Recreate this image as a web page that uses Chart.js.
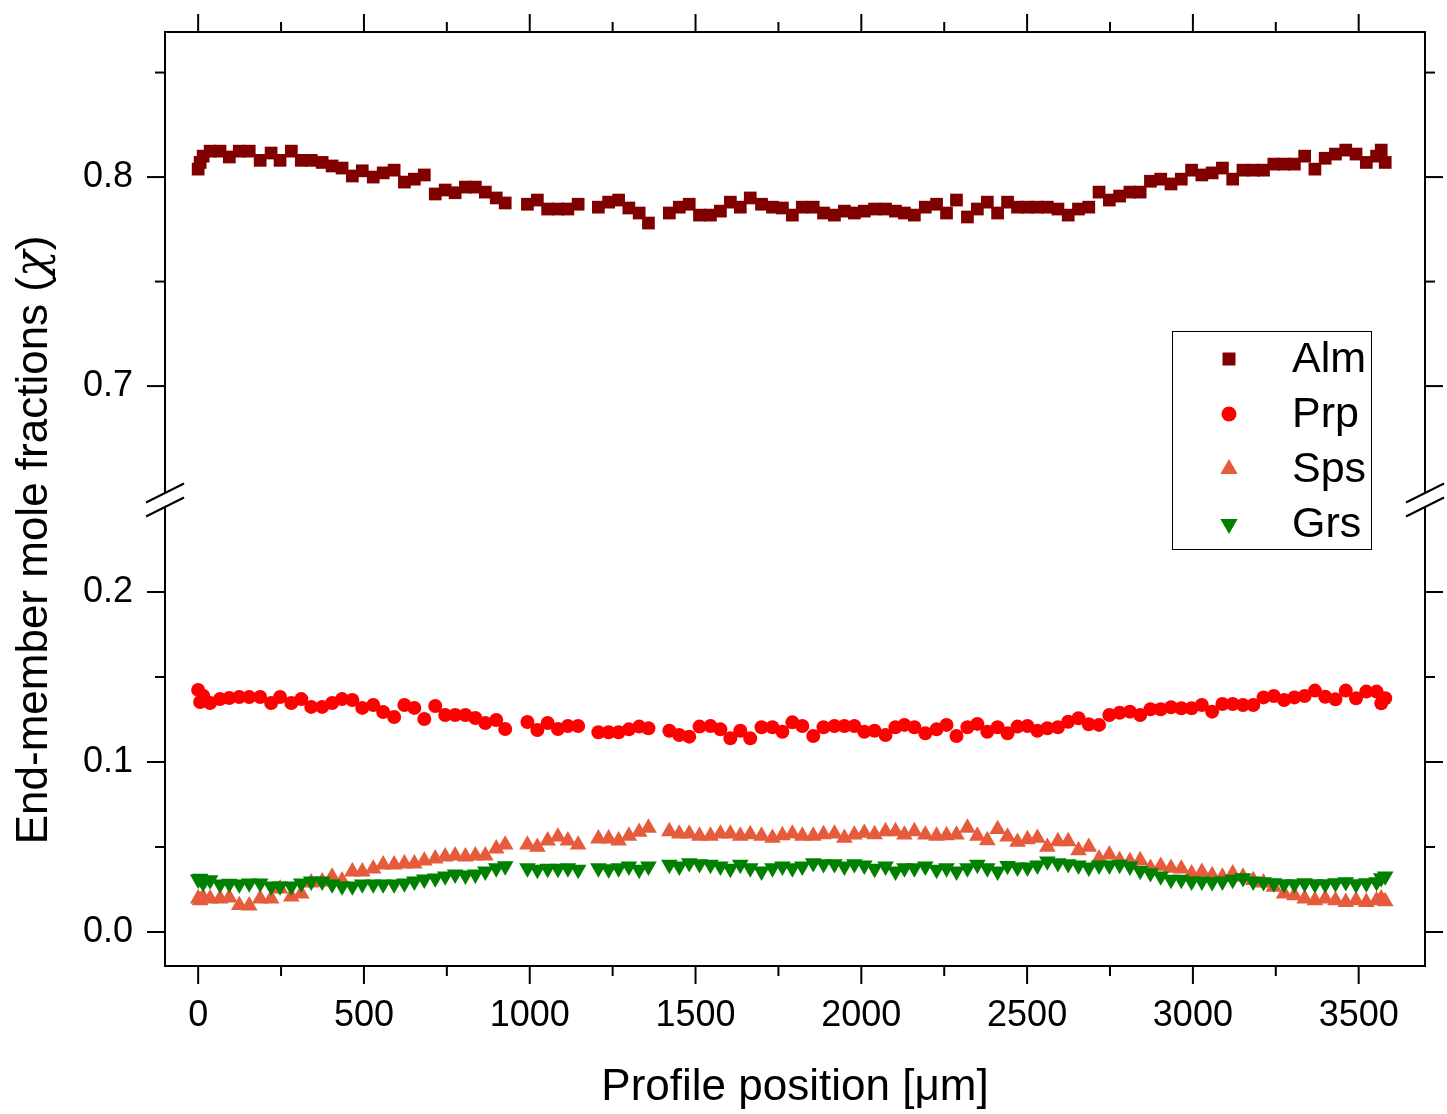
<!DOCTYPE html>
<html>
<head>
<meta charset="utf-8">
<script src="https://cdn.jsdelivr.net/npm/chart.js@4.4.1/dist/chart.umd.min.js"></script>
<style>
html,body{margin:0;padding:0;background:#fff;}
#wrap{position:relative;width:1447px;height:1114px;}
</style>
</head>
<body>
<div id="wrap"><canvas id="c"></canvas></div>
<script>
// ---------- data ----------
const POSITION_UM = [
  0, 6, 15, 36, 66, 94, 124, 154, 187, 220, 247, 281, 311, 341, 374, 404, 434, 465, 495, 528, 558, 591, 622, 652, 682, 715, 745, 775, 806, 836, 866, 899, 926,
  993, 1023, 1054, 1085, 1115, 1146,
  1207, 1238, 1268, 1299, 1330, 1358,
  1421, 1451, 1481, 1512, 1545, 1575, 1605, 1635, 1665, 1699, 1732, 1762, 1792, 1822, 1855, 1886, 1919, 1949, 1979, 2009, 2040, 2073, 2103, 2130, 2160, 2193, 2227, 2257, 2287, 2320, 2350, 2380, 2411, 2441, 2471, 2501, 2531, 2561,
  2593, 2624, 2655, 2686, 2717, 2748, 2779, 2810, 2841, 2872, 2903, 2934, 2965, 2996, 3027, 3058, 3089, 3120, 3151, 3182, 3213, 3244, 3275, 3306, 3337, 3368, 3399, 3430, 3461, 3492, 3523, 3554, 3568, 3580
];
const ALM = [
  0.8038, 0.8070, 0.8100, 0.8124, 0.8124, 0.8096, 0.8124, 0.8124, 0.8080, 0.8115, 0.8080, 0.8124, 0.8080, 0.8080, 0.8070, 0.8053, 0.8043, 0.8005, 0.8030, 0.8000, 0.8020, 0.8033, 0.7976, 0.7990, 0.8010, 0.7919, 0.7938, 0.7925, 0.7952, 0.7952, 0.7928, 0.7900, 0.7876,
  0.7870, 0.7890, 0.7847, 0.7847, 0.7847, 0.7870,
  0.7856, 0.7880, 0.7890, 0.7852, 0.7828, 0.7780,
  0.7828, 0.7856, 0.7870, 0.7818, 0.7818, 0.7837, 0.7880, 0.7856, 0.7900, 0.7870, 0.7856, 0.7852, 0.7818, 0.7856, 0.7856, 0.7828, 0.7818, 0.7837, 0.7828, 0.7837, 0.7847, 0.7847, 0.7837, 0.7828, 0.7818, 0.7856, 0.7870, 0.7828, 0.7890, 0.7809, 0.7847, 0.7880, 0.7828, 0.7880, 0.7856, 0.7856, 0.7856, 0.7856,
  0.7847, 0.7818, 0.7847, 0.7856, 0.7928, 0.7890, 0.7909, 0.7928, 0.7928, 0.7980, 0.7990, 0.7967, 0.7990, 0.8033, 0.8010, 0.8020, 0.8043, 0.7990, 0.8033, 0.8033, 0.8033, 0.8062, 0.8062, 0.8062, 0.8100, 0.8038, 0.8090, 0.8110, 0.8129, 0.8110, 0.8070, 0.8100, 0.8129, 0.8070
];
const PRP = [
  0.1424, 0.1353, 0.1390, 0.1347, 0.1370, 0.1376, 0.1382, 0.1382, 0.1382, 0.1347, 0.1382, 0.1347, 0.1370, 0.1324, 0.1324, 0.1347, 0.1370, 0.1365, 0.1318, 0.1335, 0.1294, 0.1265, 0.1335, 0.1318, 0.1253, 0.1329, 0.1276, 0.1276, 0.1276, 0.1259, 0.1229, 0.1247, 0.1194,
  0.1235, 0.1188, 0.1229, 0.1194, 0.1212, 0.1212,
  0.1175, 0.1175, 0.1175, 0.1192, 0.1208, 0.1198,
  0.1184, 0.1159, 0.1149, 0.1208, 0.1212, 0.1192, 0.1139, 0.1184, 0.1139, 0.1204, 0.1204, 0.1178, 0.1233, 0.1212, 0.1153, 0.1204, 0.1212, 0.1212, 0.1212, 0.1178, 0.1184, 0.1159, 0.1204, 0.1218, 0.1204, 0.1169, 0.1192, 0.1218, 0.1153, 0.1204, 0.1224, 0.1178, 0.1204,
  0.1169, 0.1208, 0.1212, 0.1184, 0.1198, 0.1204, 0.1237, 0.1257, 0.1222, 0.1218, 0.1276, 0.1290, 0.1296, 0.1276, 0.1310, 0.1310, 0.1322, 0.1316, 0.1316, 0.1335, 0.1296, 0.1341, 0.1341, 0.1335, 0.1335, 0.1380, 0.1388, 0.1365, 0.1380, 0.1388, 0.1420, 0.1384, 0.1369, 0.1420, 0.1375, 0.1414, 0.1414, 0.1345, 0.1375
];
const SPS = [
  0.0196, 0.0186, 0.0202, 0.0196, 0.0196, 0.0202, 0.0157, 0.0155, 0.0196, 0.0196, 0.0255, 0.0208, 0.0225, 0.0290, 0.0296, 0.0325, 0.0302, 0.0355, 0.0355, 0.0372, 0.0396, 0.0396, 0.0402, 0.0402, 0.0419, 0.0431, 0.0443, 0.0449, 0.0443, 0.0449, 0.0449, 0.0490, 0.0513,
  0.0513, 0.0500, 0.0537, 0.0560, 0.0537, 0.0513,
  0.0549, 0.0549, 0.0537, 0.0565, 0.0588, 0.0612,
  0.0592, 0.0578, 0.0578, 0.0565, 0.0565, 0.0578, 0.0578, 0.0565, 0.0574, 0.0565, 0.0553, 0.0568, 0.0578, 0.0565, 0.0565, 0.0574, 0.0578, 0.0553, 0.0572, 0.0582, 0.0574, 0.0592, 0.0592, 0.0572, 0.0592, 0.0572, 0.0565, 0.0568, 0.0572, 0.0612, 0.0565, 0.0539, 0.0604, 0.0560,
  0.0529, 0.0545, 0.0553, 0.0500, 0.0533, 0.0533, 0.0480, 0.0500, 0.0431, 0.0455, 0.0421, 0.0415, 0.0421, 0.0376, 0.0388, 0.0376, 0.0372, 0.0343, 0.0353, 0.0333, 0.0324, 0.0343, 0.0324, 0.0304, 0.0290, 0.0265, 0.0225, 0.0215, 0.0196, 0.0186, 0.0196, 0.0186, 0.0176, 0.0186, 0.0176, 0.0186, 0.0196, 0.0180
];
const GRS = [
  0.0310, 0.0315, 0.0290, 0.0305, 0.0281, 0.0285, 0.0281, 0.0287, 0.0287, 0.0269, 0.0269, 0.0269, 0.0287, 0.0298, 0.0298, 0.0281, 0.0269, 0.0269, 0.0281, 0.0281, 0.0281, 0.0281, 0.0287, 0.0298, 0.0310, 0.0316, 0.0328, 0.0339, 0.0333, 0.0339, 0.0357, 0.0376, 0.0388,
  0.0376, 0.0367, 0.0373, 0.0373, 0.0376, 0.0367,
  0.0376, 0.0370, 0.0376, 0.0386, 0.0367, 0.0386,
  0.0396, 0.0386, 0.0406, 0.0400, 0.0396, 0.0386, 0.0373, 0.0396, 0.0376, 0.0357, 0.0376, 0.0386, 0.0376, 0.0386, 0.0406, 0.0400, 0.0400, 0.0386, 0.0400, 0.0392, 0.0373, 0.0386, 0.0357, 0.0376, 0.0376, 0.0386, 0.0367, 0.0376, 0.0357, 0.0376, 0.0396, 0.0376, 0.0357, 0.0390,
  0.0380, 0.0380, 0.0392, 0.0416, 0.0406, 0.0400, 0.0392, 0.0380, 0.0392, 0.0392, 0.0396, 0.0386, 0.0361, 0.0347, 0.0328, 0.0308, 0.0308, 0.0298, 0.0298, 0.0294, 0.0298, 0.0308, 0.0318, 0.0298, 0.0294, 0.0288, 0.0282, 0.0282, 0.0288, 0.0282, 0.0282, 0.0288, 0.0294, 0.0282, 0.0288, 0.0294, 0.0318, 0.0328
];

const SERIES_NAMES = ['Alm', 'Prp', 'Sps', 'Grs'];
const SERIES_COLORS = ['#800000', '#ff0000', '#e55b3c', '#008000'];

const X_MAJOR = [0, 500, 1000, 1500, 2000, 2500, 3000, 3500];
const X_MINOR = [250, 750, 1250, 1750, 2250, 2750, 3250];
const Y_UP_MAJOR = [0.7, 0.8];
const Y_UP_MINOR = [0.75, 0.85];
const Y_LOW_MAJOR = [0.0, 0.1, 0.2];
const Y_LOW_MINOR = [0.05, 0.15];

const X_RANGE = [-100, 3700];
const Y_UP_RANGE = [0.6455, 0.8694];
const Y_LOW_RANGE = [-0.02, 0.2541];

const X_TITLE = 'Profile position [\u03bcm]';
const Y_TITLE_MAIN = 'End-member mole fractions (';
const Y_TITLE_SYMBOL = '\u03c7';
const Y_TITLE_END = ')';

// ---------- chart ----------
const FONT = '"Liberation Sans", Arial, Helvetica, sans-serif';
const SYMBOL_FONT = '"DejaVu Serif", "Liberation Serif", serif';

function pts(values) {
  const out = [];
  for (let i = 0; i < POSITION_UM.length; i++) {
    if (values[i] !== undefined) out.push({x: POSITION_UM[i], y: values[i]});
  }
  return out;
}

const frameAndLegend = {
  id: 'frameAndLegend',
  afterDraw(chart) {
    const {ctx, chartArea: a, scales} = chart;
    const xs = scales.x, yu = scales.yUp, yl = scales.yLow;
    const L = (x1, y1, x2, y2) => { ctx.beginPath(); ctx.moveTo(x1, y1); ctx.lineTo(x2, y2); ctx.stroke(); };
    ctx.save();
    ctx.strokeStyle = '#000';
    ctx.lineWidth = 2;
    const brk = Math.round(yu.bottom);
    const gap = 7;
    // frame
    L(a.left - 1, a.top, a.right + 1, a.top);
    L(a.left - 1, a.bottom, a.right + 1, a.bottom);
    for (const sx of [a.left, a.right]) {
      L(sx, a.top, sx, brk - gap);
      L(sx, brk + gap, sx, a.bottom);
      for (const off of [-gap, gap]) L(sx - 19, brk + off + 9.5, sx + 19, brk + off - 9.5);
    }
    // x ticks (bottom + top, outward)
    for (const v of X_MAJOR) { const p = xs.getPixelForValue(v); L(p, a.bottom, p, a.bottom + 18); L(p, a.top, p, a.top - 18); }
    for (const v of X_MINOR) { const p = xs.getPixelForValue(v); L(p, a.bottom, p, a.bottom + 10); L(p, a.top, p, a.top - 10); }
    // y ticks (left + right, outward)
    const yt = (scale, vals, len) => { for (const v of vals) { const p = scale.getPixelForValue(v); L(a.left - len, p, a.left, p); L(a.right, p, a.right + len, p); } };
    yt(yu, Y_UP_MAJOR, 18); yt(yu, Y_UP_MINOR, 10);
    yt(yl, Y_LOW_MAJOR, 18); yt(yl, Y_LOW_MINOR, 10);

    // y title (main text + symbol)
    ctx.fillStyle = '#000';
    ctx.textBaseline = 'middle';
    ctx.textAlign = 'left';
    ctx.save();
    ctx.translate(35, 540);
    ctx.rotate(-Math.PI / 2);
    const fMain = '44px ' + FONT, fSym = 'italic 44px ' + SYMBOL_FONT;
    ctx.font = fMain; const w1 = ctx.measureText(Y_TITLE_MAIN).width; const w3 = ctx.measureText(Y_TITLE_END).width;
    ctx.font = fSym; const w2 = ctx.measureText(Y_TITLE_SYMBOL).width;
    let x0 = -(w1 + w2 + w3) / 2;
    ctx.font = fMain; ctx.fillText(Y_TITLE_MAIN, x0, 0);
    ctx.font = fSym; ctx.fillText(Y_TITLE_SYMBOL, x0 + w1, 0);
    ctx.font = fMain; ctx.fillText(Y_TITLE_END, x0 + w1 + w2, 0);
    ctx.restore();

    // legend
    ctx.lineWidth = 1;
    ctx.strokeRect(1172.5, 331.5, 199, 218);
    ctx.font = '43px ' + FONT;
    ctx.textAlign = 'left';
    chart.data.datasets.forEach((ds, i) => {
      const cy = 359 + i * 55;
      const cx = 1229;
      ctx.fillStyle = ds.backgroundColor;
      ctx.beginPath();
      if (ds.pointStyle === 'rect') {
        ctx.rect(cx - 6.5, cy - 6.5, 13, 13);
      } else if (ds.pointStyle === 'circle') {
        ctx.arc(cx, cy, 7.5, 0, Math.PI * 2);
      } else {
        const r = 10, s = (ds.pointRotation === 180) ? -1 : 1;
        ctx.moveTo(cx, cy - s * r);
        ctx.lineTo(cx + r * 0.866, cy + s * r / 2);
        ctx.lineTo(cx - r * 0.866, cy + s * r / 2);
        ctx.closePath();
      }
      ctx.fill();
      ctx.fillStyle = '#000';
      ctx.fillText(ds.label, 1292, cy + 1);
    });
    ctx.restore();
  }
};

const zeroPad = s => { s.paddingTop = 0; s.paddingBottom = 0; s.paddingLeft = 0; s.paddingRight = 0; };

const yScale = (range, majors, weight) => ({
  type: 'linear',
  position: 'left',
  stack: 'y',
  stackWeight: weight,
  min: range[0],
  max: range[1],
  afterBuildTicks: s => { s.ticks = majors.map(v => ({value: v})); },
  afterFit: s => { s.width = 165; zeroPad(s); },
  grid: {display: false, drawTicks: false},
  border: {display: false},
  ticks: {
    autoSkip: false,
    padding: 32,
    color: '#000',
    font: {family: FONT, size: 36},
    callback: v => Number(v).toFixed(1)
  }
});

new Chart(document.getElementById('c'), {
  type: 'scatter',
  data: {
    datasets: [
      {label: SERIES_NAMES[0], data: pts(ALM), yAxisID: 'yUp', pointStyle: 'rect', pointRadius: 9, backgroundColor: SERIES_COLORS[0], borderColor: SERIES_COLORS[0], pointBorderWidth: 0, order: 4},
      {label: SERIES_NAMES[1], data: pts(PRP), yAxisID: 'yLow', pointStyle: 'circle', pointRadius: 7, backgroundColor: SERIES_COLORS[1], borderColor: SERIES_COLORS[1], pointBorderWidth: 0, order: 3},
      {label: SERIES_NAMES[2], data: pts(SPS), yAxisID: 'yLow', pointStyle: 'triangle', pointRadius: 9.6, backgroundColor: SERIES_COLORS[2], borderColor: SERIES_COLORS[2], pointBorderWidth: 0, order: 2},
      {label: SERIES_NAMES[3], data: pts(GRS), yAxisID: 'yLow', pointStyle: 'triangle', pointRotation: 180, rotation: 180, pointRadius: 9.6, backgroundColor: SERIES_COLORS[3], borderColor: SERIES_COLORS[3], pointBorderWidth: 0, order: 1}
    ]
  },
  options: {
    responsive: true,
    maintainAspectRatio: false,
    animation: false,
    devicePixelRatio: 1,
    layout: {padding: {left: 0, top: 32, right: 22, bottom: 0}},
    plugins: {legend: {display: false}, tooltip: {enabled: false}, title: {display: false}},
    scales: {
      x: {
        type: 'linear',
        position: 'bottom',
        min: X_RANGE[0],
        max: X_RANGE[1],
        afterBuildTicks: s => { s.ticks = X_MAJOR.map(v => ({value: v})); },
        afterFit: s => { s.height = 148; zeroPad(s); },
        grid: {display: false, drawTicks: false},
        border: {display: false},
        ticks: {autoSkip: false, maxRotation: 0, minRotation: 0, padding: 28, color: '#000', font: {family: FONT, size: 36}, callback: v => String(v)},
        title: {display: true, text: X_TITLE, color: '#000', font: {family: FONT, size: 44}, padding: {top: 0, bottom: 0}}
      },
      yLow: yScale(Y_LOW_RANGE, Y_LOW_MAJOR, 466),
      yUp: yScale(Y_UP_RANGE, Y_UP_MAJOR, 468)
    }
  },
  plugins: [frameAndLegend]
});
</script>
</body>
</html>
